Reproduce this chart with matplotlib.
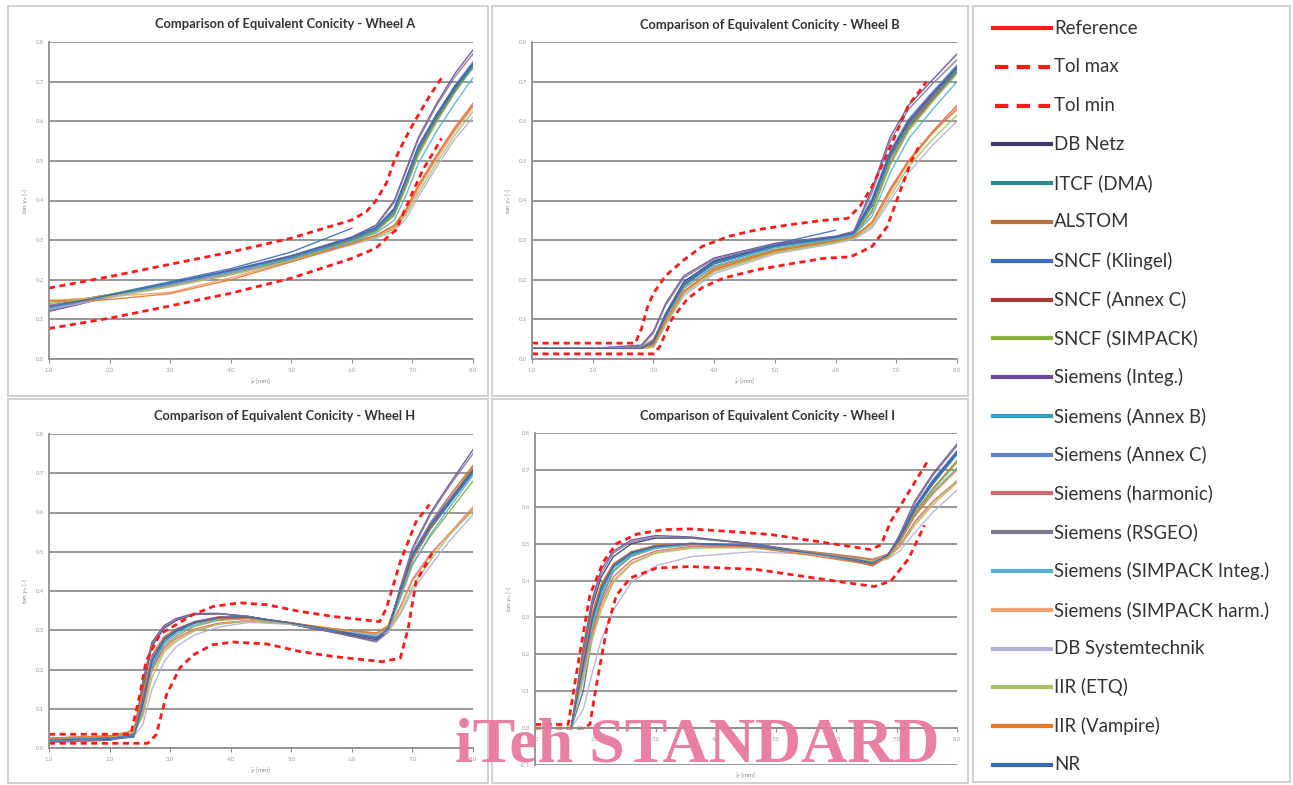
import numpy as np
import matplotlib.pyplot as plt
from matplotlib.patches import Rectangle
from matplotlib.lines import Line2D

nan = np.nan

names = ['Reference', 'Tol max', 'Tol min', 'DB Netz', 'ITCF (DMA)', 'ALSTOM',
         'SNCF (Klingel)', 'SNCF (Annex C)', 'SNCF (SIMPACK)', 'Siemens (Integ.)',
         'Siemens (Annex B)', 'Siemens (Annex C)', 'Siemens (harmonic)', 'Siemens (RSGEO)',
         'Siemens (SIMPACK Integ.)', 'Siemens (SIMPACK harm.)', 'DB Systemtechnik',
         'IIR (ETQ)', 'IIR (Vampire)', 'NR']
colors = ['#ff1a1a', '#ff1a1a', '#ff1a1a', '#3d3a6e', '#2c8a8a', '#b8703a',
          '#3a6cc0', '#a83a3a', '#8cb040', '#6a4aa0', '#30a0c0', '#6080d0',
          '#d06870', '#807890', '#58b0d0', '#f0a070', '#b0b0d8', '#a8c060',
          '#e87828', '#3868b0']

# ---------------- Wheel A ----------------
xa = [1.0, 1.5, 2.0, 3.0, 4.0, 5.0, 6.0, 6.4, 6.7, 6.9, 7.1, 7.4, 7.7, 8.0]
a_ref = [0.130, 0.145, 0.160, 0.190, 0.221, 0.256, 0.302, 0.327, 0.372, 0.448, 0.528, 0.608, 0.678, 0.740]
a_tmax_x = [1.0, 2.0, 3.0, 4.0, 5.0, 6.0, 6.24, 6.4, 6.57, 6.7, 6.87, 7.0, 7.28, 7.48]
a_tmax = [0.179, 0.208, 0.239, 0.270, 0.305, 0.351, 0.372, 0.400, 0.444, 0.500, 0.553, 0.590, 0.663, 0.709]
a_tmin_x = [1.0, 2.0, 3.0, 4.0, 5.0, 6.0, 6.4, 6.57, 6.73, 6.9, 7.0, 7.17, 7.34, 7.48]
a_tmin = [0.077, 0.103, 0.134, 0.166, 0.204, 0.254, 0.280, 0.305, 0.326, 0.385, 0.420, 0.477, 0.520, 0.557]
a_curves = [
    [0.125, 0.140, 0.158, 0.190, 0.222, 0.258, 0.305, 0.330, 0.380, 0.455, 0.535, 0.615, 0.685, 0.745],
    [0.130, 0.143, 0.160, 0.190, 0.220, 0.255, 0.300, 0.325, 0.370, 0.445, 0.525, 0.605, 0.675, 0.735],
    [0.145, 0.150, 0.162, 0.188, 0.218, 0.252, 0.298, 0.322, 0.365, 0.440, 0.520, 0.605, 0.680, 0.745],
    [0.135, 0.148, 0.163, 0.195, 0.228, 0.270, 0.330, nan, nan, nan, nan, nan, nan, nan],
    [0.128, 0.142, 0.158, 0.189, 0.221, 0.256, 0.302, 0.328, 0.375, 0.450, 0.530, 0.610, 0.680, 0.742],
    [0.140, 0.150, 0.163, 0.190, 0.220, 0.253, 0.298, 0.322, 0.362, 0.435, 0.515, 0.598, 0.672, 0.738],
    [0.120, 0.138, 0.157, 0.190, 0.223, 0.260, 0.308, 0.338, 0.400, 0.480, 0.560, 0.645, 0.720, 0.780],
    [0.130, 0.145, 0.160, 0.191, 0.222, 0.257, 0.302, 0.327, 0.372, 0.448, 0.528, 0.608, 0.678, 0.740],
    [0.128, 0.143, 0.159, 0.190, 0.222, 0.258, 0.304, 0.330, 0.378, 0.455, 0.537, 0.617, 0.690, 0.750],
    [0.135, 0.145, 0.157, 0.185, 0.215, 0.250, 0.293, 0.312, 0.335, 0.375, 0.435, 0.510, 0.580, 0.640],
    [0.122, 0.139, 0.158, 0.191, 0.224, 0.261, 0.307, 0.336, 0.395, 0.475, 0.555, 0.640, 0.712, 0.770],
    [0.130, 0.144, 0.158, 0.188, 0.218, 0.252, 0.295, 0.318, 0.350, 0.415, 0.495, 0.575, 0.645, 0.710],
    [0.148, 0.152, 0.158, 0.168, 0.205, 0.247, 0.290, 0.310, 0.330, 0.370, 0.430, 0.505, 0.575, 0.635],
    [0.125, 0.140, 0.154, 0.183, 0.213, 0.246, 0.288, 0.305, 0.322, 0.355, 0.410, 0.485, 0.555, 0.610],
    [0.145, 0.150, 0.158, 0.182, 0.212, 0.248, 0.290, 0.308, 0.328, 0.365, 0.420, 0.495, 0.565, 0.625],
    [0.148, 0.145, 0.150, 0.165, 0.200, 0.245, 0.292, 0.312, 0.338, 0.380, 0.440, 0.515, 0.585, 0.645],
    [0.132, 0.146, 0.161, 0.192, 0.224, 0.260, 0.306, 0.332, 0.380, 0.458, 0.538, 0.618, 0.688, 0.745],
]

# ---------------- Wheel B ----------------
xb = [1.0, 2.0, 2.8, 3.0, 3.2, 3.5, 4.0, 5.0, 6.0, 6.3, 6.6, 6.9, 7.2, 7.6, 8.0]
b_ref = [0.027, 0.027, 0.027, 0.042, 0.107, 0.186, 0.241, 0.284, 0.305, 0.315, 0.390, 0.510, 0.590, 0.660, 0.728]
b_tmax_x = [1.0, 2.7, 2.8, 2.9, 3.0, 3.2, 3.5, 3.8, 4.25, 4.7, 5.25, 5.8, 6.2, 6.4, 6.6, 6.8, 7.0, 7.2, 7.5]
b_tmax = [0.040, 0.040, 0.075, 0.130, 0.166, 0.210, 0.250, 0.284, 0.310, 0.326, 0.339, 0.350, 0.355, 0.385, 0.435, 0.500, 0.570, 0.640, 0.700]
b_tmin_x = [1.0, 3.0, 3.1, 3.3, 3.55, 3.8, 4.15, 4.7, 5.25, 5.8, 6.25, 6.6, 6.85, 7.05, 7.25, 7.4]
b_tmin = [0.013, 0.013, 0.030, 0.100, 0.150, 0.180, 0.204, 0.225, 0.240, 0.254, 0.258, 0.284, 0.334, 0.418, 0.500, 0.545]
b_curves = [
    [0.027, 0.027, 0.027, 0.045, 0.115, 0.195, 0.248, 0.288, 0.308, 0.318, 0.400, 0.520, 0.600, 0.670, 0.735],
    [0.027, 0.027, 0.027, 0.040, 0.105, 0.185, 0.240, 0.283, 0.305, 0.315, 0.385, 0.505, 0.585, 0.655, 0.725],
    [0.027, 0.027, 0.030, 0.050, 0.110, 0.180, 0.232, 0.276, 0.300, 0.310, 0.375, 0.495, 0.580, 0.655, 0.730],
    [0.027, 0.027, 0.027, 0.040, 0.110, 0.190, 0.245, 0.290, 0.325, nan, nan, nan, nan, nan, nan],
    [0.027, 0.027, 0.027, 0.042, 0.108, 0.188, 0.243, 0.285, 0.306, 0.316, 0.395, 0.515, 0.595, 0.665, 0.732],
    [0.027, 0.027, 0.027, 0.030, 0.090, 0.170, 0.228, 0.275, 0.300, 0.310, 0.370, 0.490, 0.575, 0.650, 0.720],
    [0.027, 0.027, 0.035, 0.070, 0.140, 0.210, 0.255, 0.292, 0.310, 0.322, 0.430, 0.560, 0.640, 0.705, 0.770],
    [0.027, 0.027, 0.027, 0.042, 0.108, 0.187, 0.241, 0.284, 0.305, 0.315, 0.390, 0.510, 0.590, 0.660, 0.730],
    [0.027, 0.027, 0.027, 0.045, 0.112, 0.190, 0.244, 0.286, 0.307, 0.318, 0.405, 0.525, 0.605, 0.675, 0.742],
    [0.027, 0.027, 0.027, 0.035, 0.095, 0.170, 0.225, 0.272, 0.298, 0.308, 0.345, 0.430, 0.500, 0.575, 0.640],
    [0.027, 0.027, 0.032, 0.065, 0.135, 0.205, 0.252, 0.290, 0.309, 0.320, 0.420, 0.550, 0.630, 0.695, 0.755],
    [0.027, 0.027, 0.027, 0.035, 0.098, 0.178, 0.235, 0.280, 0.302, 0.312, 0.360, 0.470, 0.555, 0.630, 0.700],
    [0.027, 0.027, 0.027, 0.033, 0.092, 0.168, 0.222, 0.270, 0.296, 0.306, 0.340, 0.420, 0.495, 0.570, 0.635],
    [0.027, 0.027, 0.027, 0.030, 0.085, 0.160, 0.215, 0.265, 0.292, 0.302, 0.330, 0.400, 0.470, 0.540, 0.600],
    [0.027, 0.027, 0.027, 0.030, 0.088, 0.165, 0.220, 0.268, 0.295, 0.305, 0.335, 0.410, 0.485, 0.555, 0.615],
    [0.027, 0.027, 0.027, 0.036, 0.097, 0.172, 0.226, 0.273, 0.298, 0.308, 0.345, 0.425, 0.500, 0.572, 0.630],
    [0.027, 0.027, 0.027, 0.043, 0.110, 0.189, 0.244, 0.287, 0.308, 0.318, 0.400, 0.520, 0.600, 0.670, 0.738],
]

# ---------------- Wheel H ----------------
xh = [1.0, 2.0, 2.4, 2.55, 2.7, 2.9, 3.1, 3.4, 3.8, 4.3, 5.0, 5.7, 6.4, 6.6, 6.8, 7.0, 7.3, 7.6, 8.0]
h_ref = [0.020, 0.025, 0.030, 0.120, 0.230, 0.280, 0.300, 0.320, 0.332, 0.333, 0.318, 0.300, 0.282, 0.305, 0.400, 0.490, 0.565, 0.625, 0.705]
h_tmax_x = [1.0, 2.35, 2.5, 2.6, 2.83, 3.05, 3.38, 3.7, 4.15, 4.6, 5.14, 5.7, 6.46, 6.57, 6.8, 7.06, 7.28]
h_tmax = [0.035, 0.035, 0.136, 0.220, 0.290, 0.310, 0.340, 0.360, 0.370, 0.365, 0.348, 0.335, 0.322, 0.356, 0.475, 0.577, 0.620]
h_tmin_x = [1.0, 2.63, 2.77, 2.94, 3.16, 3.38, 3.7, 4.04, 4.6, 5.14, 5.7, 6.5, 6.8, 6.93, 7.06, 7.34]
h_tmin = [0.012, 0.012, 0.034, 0.136, 0.204, 0.237, 0.263, 0.270, 0.265, 0.246, 0.233, 0.220, 0.229, 0.305, 0.424, 0.500]
h_curves = [
    [0.020, 0.022, 0.028, 0.150, 0.260, 0.305, 0.325, 0.340, 0.342, 0.335, 0.315, 0.296, 0.276, 0.300, 0.405, 0.495, 0.570, 0.630, 0.710],
    [0.020, 0.025, 0.030, 0.110, 0.220, 0.275, 0.298, 0.318, 0.331, 0.333, 0.318, 0.300, 0.282, 0.305, 0.398, 0.488, 0.562, 0.622, 0.703],
    [0.025, 0.030, 0.035, 0.130, 0.230, 0.278, 0.300, 0.318, 0.328, 0.330, 0.318, 0.302, 0.288, 0.310, 0.400, 0.495, 0.575, 0.640, 0.720],
    [0.020, 0.025, 0.030, 0.100, 0.210, 0.270, 0.295, 0.318, 0.332, 0.334, 0.319, 0.300, 0.283, 0.300, 0.390, 0.480, 0.558, 0.620, 0.700],
    [0.020, 0.025, 0.030, 0.125, 0.235, 0.283, 0.303, 0.322, 0.334, 0.334, 0.318, 0.299, 0.280, 0.305, 0.402, 0.492, 0.567, 0.627, 0.707],
    [0.025, 0.030, 0.035, 0.090, 0.200, 0.260, 0.285, 0.310, 0.325, 0.330, 0.318, 0.302, 0.288, 0.305, 0.385, 0.470, 0.540, 0.600, 0.680],
    [0.015, 0.020, 0.035, 0.170, 0.270, 0.312, 0.330, 0.343, 0.343, 0.335, 0.315, 0.294, 0.272, 0.300, 0.410, 0.510, 0.600, 0.670, 0.760],
    [0.020, 0.025, 0.030, 0.115, 0.225, 0.278, 0.300, 0.320, 0.332, 0.333, 0.318, 0.300, 0.282, 0.305, 0.400, 0.490, 0.565, 0.625, 0.705],
    [0.020, 0.025, 0.030, 0.120, 0.228, 0.280, 0.302, 0.321, 0.333, 0.334, 0.318, 0.300, 0.281, 0.306, 0.405, 0.497, 0.572, 0.633, 0.712],
    [0.025, 0.030, 0.040, 0.100, 0.200, 0.255, 0.280, 0.303, 0.318, 0.325, 0.316, 0.302, 0.290, 0.300, 0.360, 0.430, 0.495, 0.545, 0.610],
    [0.015, 0.020, 0.030, 0.160, 0.265, 0.308, 0.327, 0.341, 0.342, 0.335, 0.315, 0.295, 0.270, 0.295, 0.405, 0.505, 0.595, 0.665, 0.750],
    [0.020, 0.025, 0.030, 0.095, 0.205, 0.265, 0.290, 0.313, 0.328, 0.331, 0.317, 0.300, 0.285, 0.300, 0.380, 0.465, 0.545, 0.610, 0.695],
    [0.025, 0.030, 0.040, 0.100, 0.195, 0.250, 0.277, 0.300, 0.316, 0.324, 0.316, 0.303, 0.292, 0.300, 0.355, 0.425, 0.490, 0.545, 0.615],
    [0.020, 0.025, 0.030, 0.060, 0.150, 0.220, 0.258, 0.288, 0.308, 0.320, 0.315, 0.302, 0.288, 0.295, 0.340, 0.400, 0.465, 0.525, 0.595],
    [0.025, 0.030, 0.040, 0.080, 0.180, 0.245, 0.272, 0.298, 0.315, 0.323, 0.316, 0.303, 0.292, 0.300, 0.345, 0.410, 0.478, 0.540, 0.605],
    [0.025, 0.030, 0.045, 0.140, 0.235, 0.282, 0.302, 0.320, 0.330, 0.331, 0.319, 0.304, 0.293, 0.312, 0.395, 0.480, 0.560, 0.630, 0.715],
    [0.020, 0.025, 0.030, 0.110, 0.222, 0.277, 0.300, 0.320, 0.332, 0.333, 0.318, 0.300, 0.280, 0.303, 0.400, 0.490, 0.566, 0.627, 0.708],
]

# ---------------- Wheel I ----------------
xi = [1.0, 1.6, 1.8, 1.95, 2.1, 2.3, 2.6, 3.0, 3.6, 4.6, 5.5, 6.3, 6.6, 6.85, 7.05, 7.3, 7.6, 8.0]
i_ref = [0.0, 0.0, 0.18, 0.30, 0.38, 0.44, 0.475, 0.493, 0.500, 0.494, 0.476, 0.458, 0.448, 0.468, 0.515, 0.595, 0.665, 0.745]
i_tmax_x = [1.0, 1.55, 1.72, 1.91, 2.13, 2.35, 2.69, 3.13, 3.57, 4.24, 4.9, 5.68, 6.57, 6.74, 6.9, 7.2, 7.5]
i_tmax = [0.010, 0.010, 0.180, 0.360, 0.450, 0.500, 0.526, 0.538, 0.540, 0.533, 0.525, 0.506, 0.484, 0.497, 0.560, 0.640, 0.720]
i_tmin_x = [1.0, 1.8, 1.91, 2.02, 2.19, 2.35, 2.58, 3.02, 3.57, 4.68, 5.51, 6.35, 6.63, 6.9, 7.2, 7.46]
i_tmin = [0.0, 0.0, 0.010, 0.118, 0.270, 0.360, 0.407, 0.434, 0.438, 0.430, 0.410, 0.390, 0.384, 0.398, 0.460, 0.550]
i_curves = [
    [0.0, 0.0, 0.20, 0.33, 0.41, 0.465, 0.500, 0.515, 0.515, 0.500, 0.478, 0.455, 0.445, 0.468, 0.520, 0.600, 0.672, 0.750],
    [0.0, 0.0, 0.17, 0.29, 0.37, 0.435, 0.472, 0.492, 0.500, 0.495, 0.477, 0.458, 0.448, 0.468, 0.513, 0.593, 0.662, 0.742],
    [0.0, 0.0, 0.19, 0.31, 0.39, 0.445, 0.478, 0.495, 0.500, 0.495, 0.480, 0.465, 0.458, 0.472, 0.512, 0.585, 0.650, 0.725],
    [0.0, 0.0, 0.10, 0.25, 0.35, 0.425, 0.468, 0.490, 0.499, 0.494, 0.476, 0.458, 0.447, 0.466, 0.512, 0.592, 0.662, 0.744],
    [0.0, 0.0, 0.18, 0.30, 0.385, 0.442, 0.477, 0.494, 0.501, 0.495, 0.477, 0.458, 0.447, 0.468, 0.517, 0.598, 0.668, 0.748],
    [0.0, 0.0, 0.15, 0.27, 0.355, 0.425, 0.465, 0.487, 0.497, 0.495, 0.478, 0.460, 0.450, 0.466, 0.505, 0.580, 0.645, 0.720],
    [0.0, 0.0, 0.22, 0.35, 0.43, 0.480, 0.510, 0.522, 0.518, 0.500, 0.476, 0.452, 0.440, 0.465, 0.525, 0.615, 0.690, 0.770],
    [0.0, 0.0, 0.17, 0.29, 0.375, 0.438, 0.474, 0.492, 0.500, 0.494, 0.476, 0.458, 0.448, 0.468, 0.515, 0.595, 0.665, 0.745],
    [0.0, 0.0, 0.18, 0.30, 0.38, 0.440, 0.476, 0.494, 0.501, 0.495, 0.477, 0.458, 0.447, 0.469, 0.518, 0.600, 0.672, 0.752],
    [0.0, 0.0, 0.15, 0.26, 0.34, 0.410, 0.455, 0.480, 0.493, 0.492, 0.478, 0.462, 0.455, 0.465, 0.495, 0.560, 0.615, 0.670],
    [0.0, 0.0, 0.21, 0.34, 0.42, 0.475, 0.505, 0.518, 0.516, 0.499, 0.476, 0.453, 0.441, 0.465, 0.522, 0.610, 0.685, 0.765],
    [0.0, 0.0, 0.16, 0.28, 0.36, 0.428, 0.468, 0.488, 0.497, 0.493, 0.477, 0.459, 0.450, 0.465, 0.505, 0.575, 0.640, 0.705],
    [0.0, 0.0, 0.14, 0.25, 0.33, 0.400, 0.448, 0.476, 0.490, 0.490, 0.476, 0.460, 0.452, 0.462, 0.490, 0.550, 0.605, 0.665],
    [0.0, 0.0, 0.05, 0.15, 0.24, 0.320, 0.395, 0.440, 0.465, 0.478, 0.472, 0.458, 0.450, 0.458, 0.480, 0.530, 0.585, 0.645],
    [0.0, 0.0, 0.13, 0.24, 0.32, 0.395, 0.445, 0.474, 0.488, 0.489, 0.475, 0.460, 0.452, 0.462, 0.492, 0.555, 0.612, 0.668],
    [0.0, 0.0, 0.19, 0.31, 0.39, 0.445, 0.478, 0.495, 0.499, 0.490, 0.470, 0.450, 0.442, 0.465, 0.505, 0.575, 0.635, 0.700],
    [0.0, 0.0, 0.17, 0.295, 0.38, 0.440, 0.476, 0.493, 0.500, 0.494, 0.476, 0.458, 0.448, 0.468, 0.516, 0.597, 0.667, 0.747],
]

W, H = 1293, 785
fig = plt.figure(figsize=(W / 100, H / 100), dpi=100)
plt.rcParams['font.family'] = ['Lato', 'DejaVu Sans']


def fx(px):
    return px / W


def fy(py):
    return 1 - py / H


# panel frames
for (x0, y0, x1, y1) in [(8, 6, 488, 396), (492, 6, 968, 396), (8, 399, 488, 783), (492, 399, 968, 783), (973, 6, 1290, 782)]:
    fig.patches.append(Rectangle((fx(x0), fy(y1)), fx(x1 - x0), (y1 - y0) / H,
                                 transform=fig.transFigure, fill=False, ec='#c8c8c8', lw=1.2))

panels = [
    ('A', (49, 42, 473, 359), 0.0, xa, a_ref, a_tmax_x, a_tmax, a_tmin_x, a_tmin, a_curves, (285, 24)),
    ('B', (532, 42, 957, 359), 0.0, xb, b_ref, b_tmax_x, b_tmax, b_tmin_x, b_tmin, b_curves, (770, 25)),
    ('H', (49, 434, 473, 748), 0.0, xh, h_ref, h_tmax_x, h_tmax, h_tmin_x, h_tmin, h_curves, (285, 416)),
    ('I', (535, 433, 957, 765), -0.1, xi, i_ref, i_tmax_x, i_tmax, i_tmin_x, i_tmin, i_curves, (768, 416)),
]

for (lab, box, ymin, x, ref, tx1, t1, tx2, t2, curves, tpos) in panels:
    l, t, r, b = box
    ax = fig.add_axes([fx(l), fy(b), fx(r - l), (b - t) / H])
    ax.set_xlim(1, 8)
    ax.set_ylim(ymin, 0.8)
    yt = np.round(np.arange(ymin, 0.81, 0.1), 1)
    ax.set_yticks(yt)
    ax.set_yticklabels(['%.1f' % v for v in yt])
    ax.set_xticks(np.arange(1, 9))
    ax.set_xticklabels(['%.1f' % v for v in range(1, 9)])
    ax.grid(axis='y', color='#8f8f8f', lw=1.3)
    ax.set_axisbelow(True)
    for s in ['top', 'right']:
        ax.spines[s].set_visible(False)
    for s in ['left', 'bottom']:
        ax.spines[s].set_color('#8f8f8f')
        ax.spines[s].set_linewidth(1.3)
    if ymin < 0:
        ax.spines['bottom'].set_position(('data', 0))
    ax.tick_params(axis='both', labelsize=4.3, colors='#8f8f8f', labelcolor='#a0a0a0', length=3, width=0.8)
    ax.tick_params(axis='y', length=0)
    ax.set_ylabel(r'tan $\gamma_e$ [-]', fontsize=4.5, color='#8a8a8a', labelpad=4)
    ax.set_xlabel(r'$\hat{y}$ [mm]', fontsize=4.5, color='#8a8a8a', labelpad=2)
    if ymin < 0:
        ax.xaxis.set_label_coords(0.5, -0.015)
    ax.plot(x, ref, color=colors[0], lw=1.1)
    for k, c in enumerate(curves):
        ax.plot(x, c, color=colors[k + 3], lw=1.0, alpha=0.9)
    ax.plot(tx1, t1, color=colors[1], lw=2.0, ls=(0, (2.2, 1.6)))
    ax.plot(tx2, t2, color=colors[2], lw=2.0, ls=(0, (2.2, 1.6)))
    fig.text(fx(tpos[0]), fy(tpos[1]), 'Comparison of Equivalent Conicity - Wheel ' + lab,
             ha='center', va='center', fontsize=9.3, fontweight='bold', color='#333333')

# legend panel
lax = fig.add_axes([fx(973), fy(782), fx(1290 - 973), (782 - 6) / H])
lax.set_xlim(973, 1290)
lax.set_ylim(782, 6)
lax.axis('off')
for k, nm in enumerate(names):
    yy = 28 + k * (765 - 28) / (len(names) - 1)
    if k in (1, 2):
        lax.add_line(Line2D([995, 1050], [yy, yy], color=colors[k], lw=3.0, ls=(0, (3.2, 2.0))))
    else:
        lax.add_line(Line2D([993, 1051], [yy, yy], color=colors[k], lw=3.0))
    lax.text(1054, yy, nm, va='center', ha='left', fontsize=13.4, color='#333333')

# watermark
fig.text(fx(455), fy(762), 'iTeh STANDARD', fontsize=46, fontweight='bold',
         family='Liberation Serif', color='#e8799f', alpha=0.95, ha='left', va='baseline')

fig.savefig('out.png', dpi=100)
